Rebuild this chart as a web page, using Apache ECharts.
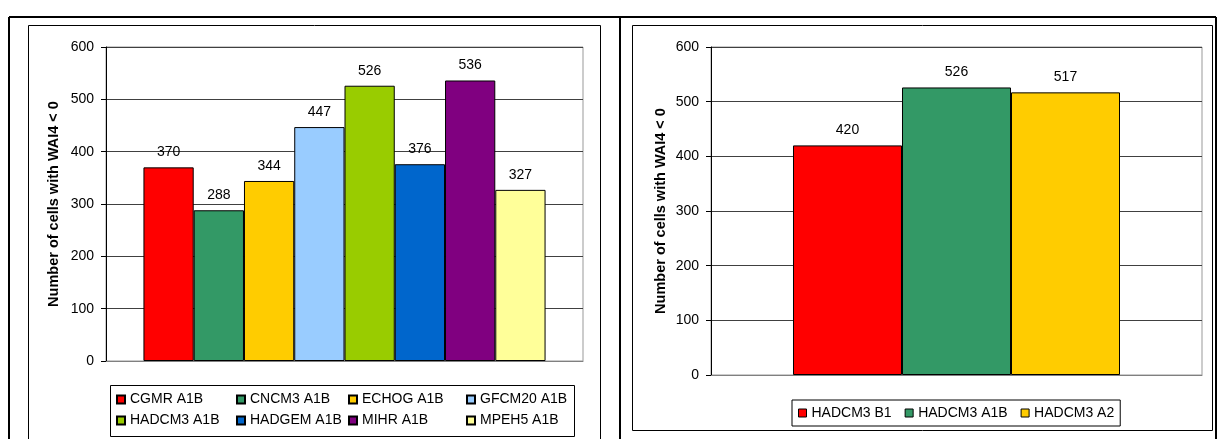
<!DOCTYPE html>
<html><head><meta charset="utf-8">
<script src="https://cdn.jsdelivr.net/npm/echarts@6/dist/echarts.min.js"></script>
<style>html,body{margin:0;padding:0;background:#fff}#c{width:1224px;height:439px}</style>
</head><body><div id="c"></div>
<script>
// Left chart data
const leftNames = ['CGMR A1B','CNCM3 A1B','ECHOG A1B','GFCM20 A1B','HADCM3 A1B','HADGEM A1B','MIHR A1B','MPEH5 A1B'];
const leftValues = [370, 288, 344, 447, 526, 376, 536, 327];
const leftColors = ['#FF0000','#339966','#FFCC00','#99CCFF','#99CC00','#0066CC','#800080','#FFFF99'];
// Right chart data
const rightNames = ['HADCM3 B1','HADCM3 A1B','HADCM3 A2'];
const rightValues = [420, 526, 517];
const rightColors = ['#FF0000','#339966','#FFCC00'];
// Axis
const yTicks = [0,100,200,300,400,500,600];
const yTitle = 'Number of cells with WAI4 < 0';

const FONT = 'Liberation Sans, Arial, sans-serif';
const chart = echarts.init(document.getElementById('c'));

function yAxis(gi, gap){
  return {
    type:'value', gridIndex:gi, min:yTicks[0], max:yTicks[yTicks.length-1], interval:yTicks[1]-yTicks[0],
    name:yTitle, nameLocation:'middle', nameGap:gap,
    nameTextStyle:{fontFamily:FONT,fontSize:14.5,fontWeight:'bold',color:'#000'},
    axisLine:{show:true,lineStyle:{color:'#000',width:1}},
    axisTick:{show:true,length:5,lineStyle:{color:'#000'}},
    axisLabel:{fontFamily:FONT,fontSize:14,color:'#000',margin:12},
    splitLine:{show:true,lineStyle:{color:'#404040',width:1}}
  };
}
function xAxis(gi){
  return {type:'category', gridIndex:gi, data:[''],
    axisLine:{show:true,lineStyle:{color:'#808080'}}, axisTick:{show:false}, axisLabel:{show:false}};
}
function mkSeries(names, values, colors, gi, cat){
  return names.map((n,i)=>({
    name:n, type:'bar', xAxisIndex:gi, yAxisIndex:gi, data:[values[i]],
    barGap:'0%', barCategoryGap:cat,
    itemStyle:{color:colors[i], borderColor:'#000', borderWidth:1},
    label:{show:true, position:'top', distance:8, fontFamily:FONT, fontSize:14, color:'#000'},
    emphasis:{disabled:true}
  }));
}
const legText = {fontFamily:FONT,fontSize:14,color:'#000'};
const colX = [116, 236, 348, 466];
const leftLegends = colX.map((x,c)=>({
  data:[leftNames[c], leftNames[c+4]], left:x, top:389, orient:'vertical', icon:'rect',
  itemWidth:8, itemHeight:8, itemGap:0,
  padding:0, textStyle:Object.assign({lineHeight:21}, legText)
}));

chart.setOption({
  animation:false,
  textStyle:{fontFamily:FONT},
  grid:[
    {left:106, top:47, width:477, height:314, show:true, borderColor:'#999', borderWidth:1, containLabel:false},
    {left:711, top:47, width:491, height:328, show:true, borderColor:'#999', borderWidth:1, containLabel:false}
  ],
  xAxis:[xAxis(0), xAxis(1)],
  yAxis:[yAxis(0,45), yAxis(1,43)],
  legend:leftLegends.concat([
    {data:rightNames.map((n,i)=>({name:n, itemStyle:{color:rightColors[i], borderColor:'#000', borderWidth:1}})),
     left:792, top:400, icon:'rect', itemWidth:8, itemHeight:8, itemGap:13,
     padding:[5,6,5,6], borderColor:'#000', borderWidth:1,
     textStyle:Object.assign({lineHeight:16}, legText)}
  ]),
  series:[].concat(mkSeries(leftNames,leftValues,leftColors,0,'15.7%'), mkSeries(rightNames,rightValues,rightColors,1,'33.4%')),
  graphic:[
    {type:'line', shape:{x1:9,y1:17,x2:1216,y2:17}, style:{stroke:'#000',lineWidth:2}, silent:true},
    {type:'line', shape:{x1:9,y1:17,x2:9,y2:439}, style:{stroke:'#000',lineWidth:2}, silent:true},
    {type:'line', shape:{x1:620,y1:17,x2:620,y2:439}, style:{stroke:'#000',lineWidth:2}, silent:true},
    {type:'line', shape:{x1:1216,y1:17,x2:1216,y2:439}, style:{stroke:'#000',lineWidth:2}, silent:true},
    {type:'rect', shape:{x:28.5,y:25.5,width:572,height:420}, style:{fill:null,stroke:'#000',lineWidth:1}, silent:true, z:-1},
    {type:'rect', shape:{x:632.5,y:25.5,width:580,height:405}, style:{fill:null,stroke:'#000',lineWidth:1}, silent:true, z:-1},
    {type:'rect', shape:{x:110.5,y:385.5,width:464,height:51}, style:{fill:null,stroke:'#000',lineWidth:1}, silent:true, z:-1}
  ]
});
</script></body></html>
